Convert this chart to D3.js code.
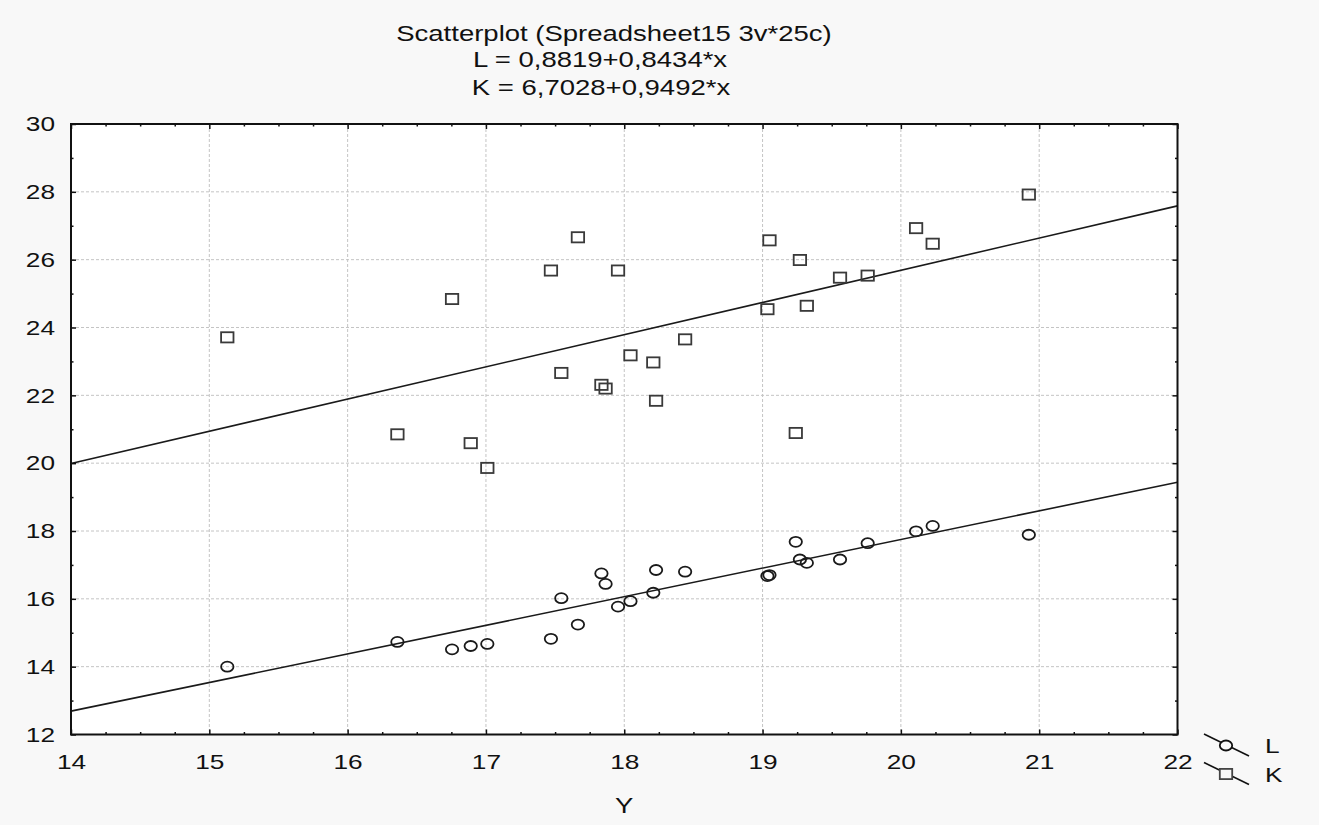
<!DOCTYPE html>
<html>
<head>
<meta charset="utf-8">
<script src="https://cdn.jsdelivr.net/npm/d3@7"></script>
<style>
  html, body { margin: 0; padding: 0; background: #f8f8f8; }
  svg { display: block; font-family: "Liberation Sans", Arial, sans-serif; }
</style>
</head>
<body>
<svg id="chart" width="1319" height="825"></svg>
<script>
// ---- data ----
const titleLines = ["Scatterplot (Spreadsheet15 3v*25c)", "L = 0,8819+0,8434*x", "K = 6,7028+0,9492*x"];
const xLabel = "Y";
const seriesNames = ["L", "K"];
const intercepts = [0.8819, 6.7028];
const slopes = [0.8434, 0.9492];
const yVals = [15.13, 16.36, 16.755, 16.89, 17.01, 17.47, 17.545, 17.665, 17.835, 17.865, 17.955, 18.045, 18.21, 18.23, 18.44, 19.035, 19.05, 19.24, 19.27, 19.32, 19.56, 19.76, 20.11, 20.23, 20.925];
const lVals = [14.00, 14.73, 14.51, 14.61, 14.67, 14.82, 16.02, 15.24, 16.75, 16.44, 15.77, 15.93, 16.18, 16.85, 16.80, 16.67, 16.70, 17.68, 17.16, 17.06, 17.16, 17.64, 17.99, 18.15, 17.89];
const kVals = [23.71, 20.85, 24.84, 20.59, 19.86, 25.68, 22.66, 26.66, 22.31, 22.20, 25.68, 23.18, 22.97, 21.84, 23.65, 24.54, 26.57, 20.89, 25.99, 24.64, 25.47, 25.53, 26.93, 26.47, 27.92];
const xMajor = [14, 15, 16, 17, 18, 19, 20, 21, 22];
const yMajor = [12, 14, 16, 18, 20, 22, 24, 26, 28, 30];

(function () {
// ---- layout ----
const svg = d3.select("#chart");
const W = 1319, H = 825;
const PL = 71, PR = 1177.5, PT = 124, PB = 734.5;
const SX = 1.25; // horizontal text stretch seen in the reference
const ink = "#111";

const x = d3.scaleLinear().domain([14, 22]).range([PL, PR]);
const y = d3.scaleLinear().domain([12, 30]).range([PB, PT]);

const xMinor = d3.range(14, 22.001, 0.25).filter(v => !xMajor.includes(v));
const yMinor = d3.range(12, 30.001, 1).filter(v => !yMajor.includes(v));

svg.append("rect").attr("width", W).attr("height", H).attr("fill", "#f8f8f8");
svg.append("rect").attr("x", PL).attr("y", PT).attr("width", PR - PL).attr("height", PB - PT).attr("fill", "#ffffff");

// gridlines
const grid = svg.append("g").attr("stroke", "#c4c4c4").attr("stroke-width", 1).attr("stroke-dasharray", "3,2");
grid.selectAll(".gx").data(xMajor.slice(1, -1)).join("line").attr("class", "gx")
  .attr("x1", d => x(d)).attr("x2", d => x(d)).attr("y1", PT).attr("y2", PB);
grid.selectAll(".gy").data(yMajor.slice(1, -1)).join("line").attr("class", "gy")
  .attr("x1", PL).attr("x2", PR).attr("y1", d => y(d)).attr("y2", d => y(d));

// stretched text helper
function sText(str, tx, ty, size, anchor) {
  return svg.append("text")
    .attr("transform", `translate(${tx},${ty}) scale(${SX},1)`)
    .attr("text-anchor", anchor)
    .attr("fill", ink)
    .style("font-size", size + "px")
    .text(str);
}

// title
const titleX = [614, 600, 601];
const titleY = [40.5, 66.8, 95];
titleLines.forEach((t, i) => sText(t, titleX[i], titleY[i], 22, "middle"));

// regression lines
const line = d3.line().x(d => x(d[0])).y(d => y(d[1]));
intercepts.forEach((a, i) => {
  const p = x.domain().map(v => [v, a + slopes[i] * v]);
  svg.append("path").attr("d", line(p)).attr("fill", "none")
    .attr("stroke", "#1a1a1a").attr("stroke-width", 1.6);
});

// points
const pts = svg.append("g");
pts.selectAll("ellipse").data(yVals.map((v, i) => [v, lVals[i]])).join("ellipse")
  .attr("cx", d => x(d[0])).attr("cy", d => y(d[1]))
  .attr("rx", 6.2).attr("ry", 5).attr("fill", "none")
  .attr("stroke", "#1a1a1a").attr("stroke-width", 1.8);
pts.selectAll("rect").data(yVals.map((v, i) => [v, kVals[i]])).join("rect")
  .attr("x", d => x(d[0]) - 6.2).attr("y", d => y(d[1]) - 5.1)
  .attr("width", 12.4).attr("height", 10.2).attr("fill", "none")
  .attr("stroke", "#3a3a3a").attr("stroke-width", 1.8);

// axes (ticks point inward)
function styleAxis(g) {
  g.select(".domain").remove();
  g.selectAll(".tick line").attr("stroke", ink).attr("stroke-width", 1.5);
}
function styleLabels(g) {
  g.selectAll("text").attr("transform", `scale(${SX},1)`).attr("fill", ink)
    .style("font-size", "21px").style("font-family", "'Liberation Sans', Arial, sans-serif");
}
const axBottom = svg.append("g").attr("transform", `translate(0,${PB})`)
  .call(d3.axisBottom(x).tickValues(xMajor).tickSizeInner(-5).tickSizeOuter(0).tickPadding(20).tickFormat(d3.format("d")));
styleAxis(axBottom); styleLabels(axBottom);
svg.append("g").attr("transform", `translate(0,${PB})`)
  .call(d3.axisBottom(x).tickValues(xMinor).tickSizeInner(-2.5).tickSizeOuter(0).tickFormat("")).call(styleAxis);

svg.append("g").attr("transform", `translate(0,${PT})`)
  .call(d3.axisTop(x).tickValues(xMajor).tickSizeInner(-5).tickSizeOuter(0).tickFormat("")).call(styleAxis);
svg.append("g").attr("transform", `translate(0,${PT})`)
  .call(d3.axisTop(x).tickValues(xMinor).tickSizeInner(-2.5).tickSizeOuter(0).tickFormat("")).call(styleAxis);

const axLeft = svg.append("g").attr("transform", `translate(${PL},0)`)
  .call(d3.axisLeft(y).tickValues(yMajor).tickSizeInner(-5).tickSizeOuter(0).tickPadding(12.8).tickFormat(d3.format("d")));
styleAxis(axLeft); styleLabels(axLeft);
svg.append("g").attr("transform", `translate(${PL},0)`)
  .call(d3.axisLeft(y).tickValues(yMinor).tickSizeInner(-2.5).tickSizeOuter(0).tickFormat("")).call(styleAxis);

svg.append("g").attr("transform", `translate(${PR},0)`)
  .call(d3.axisRight(y).tickValues(yMajor).tickSizeInner(-5).tickSizeOuter(0).tickFormat("")).call(styleAxis);
svg.append("g").attr("transform", `translate(${PR},0)`)
  .call(d3.axisRight(y).tickValues(yMinor).tickSizeInner(-2.5).tickSizeOuter(0).tickFormat("")).call(styleAxis);

// frame
svg.append("rect").attr("x", PL).attr("y", PT).attr("width", PR - PL).attr("height", PB - PT)
  .attr("fill", "none").attr("stroke", ink).attr("stroke-width", 2);

// x axis title
sText(xLabel, (PL + PR) / 2, 813, 22, "middle");

// legend
const legY = [745.5, 774];
seriesNames.forEach((name, i) => {
  const cy = legY[i];
  svg.append("line").attr("x1", 1204).attr("y1", cy - 11.5).attr("x2", 1249).attr("y2", cy + 10.5)
    .attr("stroke", ink).attr("stroke-width", 1.6);
  if (i === 0) {
    svg.append("ellipse").attr("cx", 1226).attr("cy", cy).attr("rx", 6.2).attr("ry", 5)
      .attr("fill", "#f8f8f8").attr("stroke", ink).attr("stroke-width", 1.8);
  } else {
    svg.append("rect").attr("x", 1226 - 6.2).attr("y", cy - 5.1).attr("width", 12.4).attr("height", 10.2)
      .attr("fill", "#f8f8f8").attr("stroke", "#444").attr("stroke-width", 1.8);
  }
  sText(name, 1265, cy + 7.5, 21, "start");
});
})();
</script>
</body>
</html>
